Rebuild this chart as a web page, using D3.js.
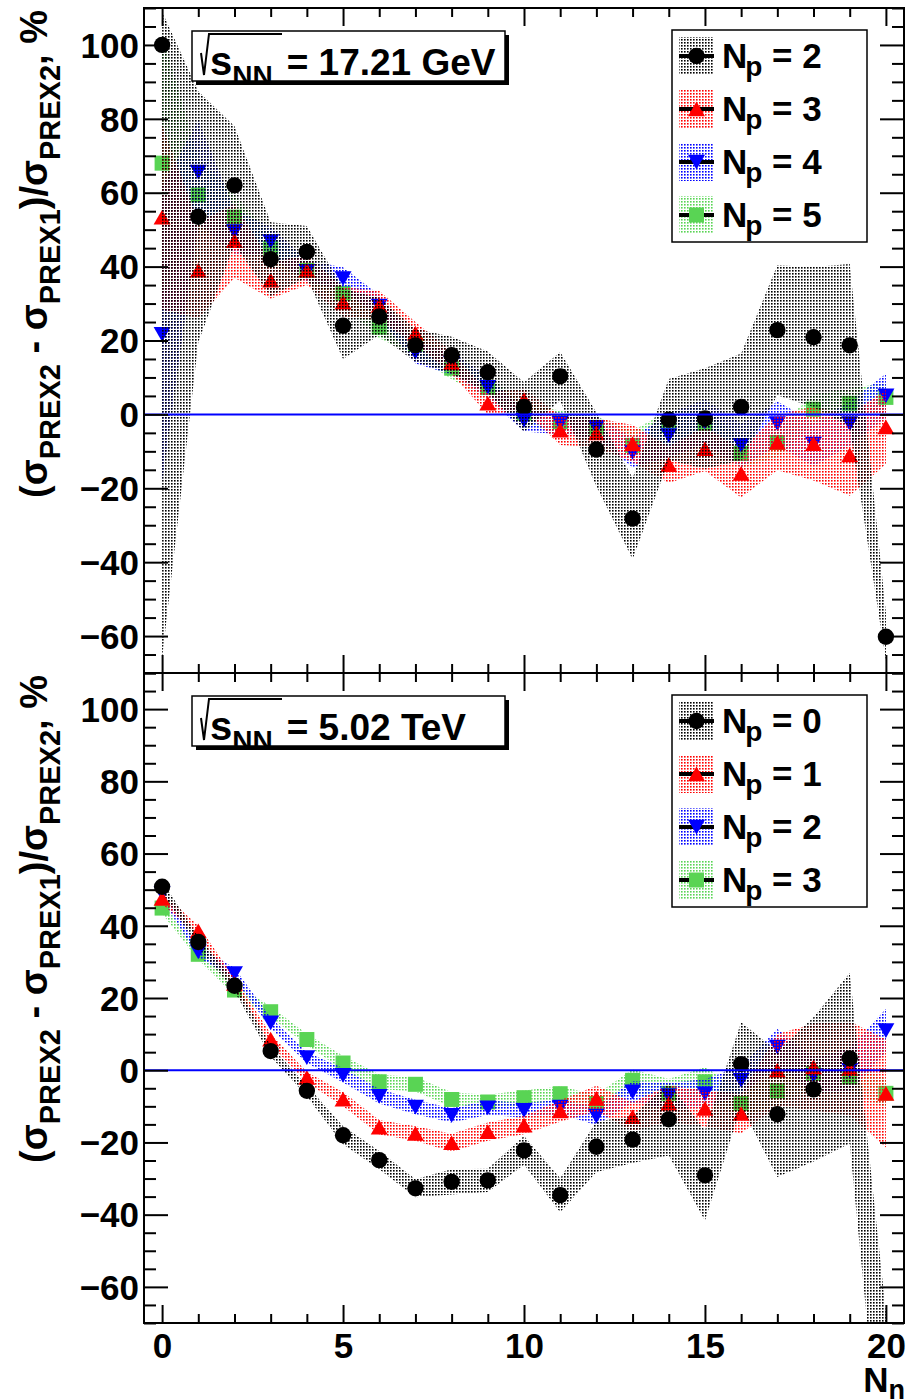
<!DOCTYPE html>
<html>
<head>
<meta charset="utf-8">
<script src="https://cdn.jsdelivr.net/npm/d3@7"></script>
<style>
  body { margin: 0; background: #fff; }
  svg { display: block; }
  text { font-family: "Liberation Sans", Arial, Helvetica, sans-serif; font-weight: bold; fill: #000; }
</style>
</head>
<body>
<svg id="chart" width="907" height="1400"></svg>
<script>
// Number of emitted neutrons on the x axis
const nNeutrons = d3.range(0, 21);

// sqrt(s_NN) = 17.21 GeV, relative cross-section difference in %
const sps_np2 = [100, 53.5, 62, 42, 44, 24, 26.5, 18.7, 16, 11.4, 2, 10.3, -9.5, -28.2, -1.4, -1.1, 2, 22.8, 20.9, 18.7, -60.2];
const sps_np2_errLow = [166, 34, 16, 10, 7, 9, 5, 4.5, 5, 5.6, 6.7, 6.6, 10, 11, 11, 13.6, 14.5, 17.6, 19, 22, 6.5];
const sps_np2_errHigh = [9, 34, 16, 10, 7, 10, 5, 4.5, 5, 5.6, 6.7, 6.6, 10, 11, 11, 13.6, 14.5, 17.6, 19, 22, 6.5];
const sps_np3 = [53.4, 39, 47, 36.3, 39, 30.4, 29.5, 22, 14, 3, 4, -4.3, -5, -7.9, -13.6, -9.3, -16, -7.6, -7.9, -11, -3.4];
const sps_np3_err = [25, 13, 10, 5, 4, 4, 4, 3, 3, 3, 3, 4, 4, 5, 5, 6, 6.5, 7.5, 10, 11, 10];
const sps_np4 = [21.7, 65.6, 49.5, 46.8, 38.7, 36.8, 29.3, 16.8, 13.8, 7.3, -1.6, -2.4, -3.5, -10.3, -5.7, -2, -8.4, -2.5, -8, -2.5, 5];
const sps_np4_err = [40, 14, 6, 4, 3, 3, 3, 3, 3, 3, 3, 3, 3, 4, 6, 6, 6, 6, 6, 6, 6];
const sps_np5 = [68, 59.4, 53.4, 45, 39, 32.8, 23.6, 19, 12.5, 7.3, 0.3, -2, -3.5, -8.4, -3, -2.4, -10.6, -7.6, 1.4, 3, 4.6];
const sps_np5_err = [35, 10, 6, 4, 3, 3, 3, 3, 3, 3, 3, 3, 3, 4, 4, 4, 4, 4, 4, 4, 4];

// sqrt(s_NN) = 5.02 TeV
const lhc_np0 = [50.8, 35.5, 23.4, 5.3, -5.7, -18, -24.9, -32.7, -30.9, -30.5, -22.2, -34.6, -21.2, -19.2, -13.6, -29.1, 1.7, -12.2, -5.3, 3.3, -95];
const lhc_np0_err = [1.5, 1.5, 1.5, 1.5, 1.5, 2.5, 2.5, 2.5, 3.5, 3.2, 4, 4.7, 7, 6.5, 10, 12.5, 11.6, 17.4, 20, 23.6, 28];
const lhc_np1 = [47.6, 38.6, 24, 8.6, -2, -8, -15.8, -17.5, -20.1, -17, -15.2, -11.3, -7.8, -12.9, -9.2, -10.6, -12, 0, 0.9, 0.5, -6.4];
const lhc_np1_err = [1.5, 1.5, 1.5, 1.5, 1.5, 2, 2, 2, 2.5, 2.5, 2.5, 3, 3.5, 4, 5, 5, 5.5, 10, 12, 13, 15];
const lhc_np2 = [49, 32.8, 26.8, 13.1, 3.5, -1.4, -7.2, -10.2, -12.5, -10.4, -11.1, -10.2, -12.7, -6, -7, -6.5, -2.8, 6.4, -1.4, 0, 11];
const lhc_np2_err = [1.5, 1.5, 1.5, 1.5, 1.5, 2, 2, 2, 2, 2, 2, 2, 2.5, 3, 3.5, 4, 4, 5, 5, 6, 6];
const lhc_np3 = [44.9, 32.1, 22.2, 16.2, 8.5, 2, -3.2, -3.9, -8.1, -8.8, -7.6, -6.5, -9.2, -2.8, -6.4, -3.2, -9.2, -5.7, -0.9, -1.9, -6.4];
const lhc_np3_err = [1.5, 1.5, 1.5, 1.5, 1.5, 2, 2, 2, 2, 2, 2, 2, 2.5, 3, 4, 4, 4, 4, 4, 4, 4];

// Axis ticks
const yMajorTicks = [-60, -40, -20, 0, 20, 40, 60, 80, 100];
const yMinorTicks = d3.range(-70, 111, 5).filter(v => v % 20 !== 0);
const xMajorTicks = [0, 5, 10, 15, 20];
const xMinorTicks = d3.range(0, 21).filter(v => v % 5 !== 0);

const energyLabels = [
  { s: "s", sub: "NN", rest: "= 17.21 GeV" },
  { s: "s", sub: "NN", rest: "= 5.02 TeV" }
];

const colors = { black: "#000000", red: "#ff0000", blue: "#0000ff", green: "#59d454" };

const svg = d3.select("#chart");
svg.append("rect").attr("width", 907).attr("height", 1400).attr("fill", "#fff");

const frameL = 144, frameR = 904;
const x = d3.scaleLinear().domain([-0.5, 20.5]).range([frameL, frameR]);

// dotted fill patterns for the uncertainty bands
const defs = svg.append("defs");
Object.entries(colors).forEach(([name, c]) => {
  const p = defs.append("pattern")
    .attr("id", "dots-" + name)
    .attr("patternUnits", "userSpaceOnUse")
    .attr("width", 3).attr("height", 3);
  p.append("rect").attr("width", 1.6).attr("height", 1.6).attr("fill", c);
});

const markers = {
  circle: { type: d3.symbolCircle, size: 210, rot: 0, dy: 0 },
  triUp: { type: d3.symbolTriangle, size: 125, rot: 0, dy: 2.4 },
  triDown: { type: d3.symbolTriangle, size: 125, rot: 180, dy: -2.4 },
  square: { type: d3.symbolSquare, size: 225, rot: 0, dy: 0 }
};

function series(label, vals, lo, hi, color, marker) {
  return {
    label, color, marker,
    points: nNeutrons.map((n, i) => ({ n, v: vals[i], lo: lo[i], hi: hi[i] }))
  };
}

const panels = [
  {
    top: 8, bottom: 673, xLabels: false, energy: energyLabels[0],
    series: [
      series("2", sps_np2, sps_np2_errLow, sps_np2_errHigh, "black", "circle"),
      series("3", sps_np3, sps_np3_err, sps_np3_err, "red", "triUp"),
      series("4", sps_np4, sps_np4_err, sps_np4_err, "blue", "triDown"),
      series("5", sps_np5, sps_np5_err, sps_np5_err, "green", "square")
    ]
  },
  {
    top: 673, bottom: 1323, xLabels: true, energy: energyLabels[1],
    series: [
      series("0", lhc_np0, lhc_np0_err, lhc_np0_err, "black", "circle"),
      series("1", lhc_np1, lhc_np1_err, lhc_np1_err, "red", "triUp"),
      series("2", lhc_np2, lhc_np2_err, lhc_np2_err, "blue", "triDown"),
      series("3", lhc_np3, lhc_np3_err, lhc_np3_err, "green", "square")
    ]
  }
];

function drawMarker(sel, m, px, py, color) {
  sel.append("path")
    .attr("d", d3.symbol(markers[m].type, markers[m].size)())
    .attr("transform", `translate(${px},${py + markers[m].dy}) rotate(${markers[m].rot})`)
    .attr("fill", colors[color]);
}

function styleAxis(g) {
  g.select(".domain").remove();
  g.selectAll(".tick line").attr("stroke", "#000").attr("stroke-width", 2);
  g.attr("font-family", null).attr("font-size", null);
}

panels.forEach((P, pi) => {
  const y = d3.scaleLinear().domain([-70, 110]).range([P.bottom, P.top]);
  const g = svg.append("g");
  const clipId = "clip" + pi;
  defs.append("clipPath").attr("id", clipId)
    .append("rect").attr("x", frameL).attr("y", P.top)
    .attr("width", frameR - frameL).attr("height", P.bottom - P.top);

  const plot = g.append("g").attr("clip-path", `url(#${clipId})`);
  const area = d3.area()
    .x(d => x(d.n))
    .y0(d => y(d.v - d.lo))
    .y1(d => y(d.v + d.hi));

  // draw last-listed series first so the first one ends up on top
  P.series.slice().reverse().forEach(s => {
    plot.append("path").datum(s.points)
      .attr("d", area)
      .attr("fill", `url(#dots-${s.color})`);
    const mg = plot.append("g");
    s.points.forEach(d => drawMarker(mg, s.marker, x(d.n), y(d.v), s.color));
  });

  // zero reference line
  g.append("line")
    .attr("x1", frameL).attr("x2", frameR)
    .attr("y1", y(0)).attr("y2", y(0))
    .attr("stroke", "#0000ff").attr("stroke-width", 2);

  // axes with inward ticks on all four sides
  const left = g.append("g").attr("transform", `translate(${frameL},0)`)
    .call(d3.axisLeft(y).tickValues(yMajorTicks).tickSize(-24).tickPadding(5).tickFormat(d3.format("d")));
  styleAxis(left);
  left.selectAll(".tick text").attr("font-size", 35).attr("dy", "0.35em").attr("x", -5);
  const leftMinor = g.append("g").attr("transform", `translate(${frameL},0)`)
    .call(d3.axisLeft(y).tickValues(yMinorTicks).tickSize(-12).tickFormat(""));
  styleAxis(leftMinor);
  const right = g.append("g").attr("transform", `translate(${frameR},0)`)
    .call(d3.axisRight(y).tickValues(yMajorTicks).tickSize(-24).tickFormat(""));
  styleAxis(right);
  const rightMinor = g.append("g").attr("transform", `translate(${frameR},0)`)
    .call(d3.axisRight(y).tickValues(yMinorTicks).tickSize(-12).tickFormat(""));
  styleAxis(rightMinor);

  const bottom = g.append("g").attr("transform", `translate(0,${P.bottom})`)
    .call(d3.axisBottom(x).tickValues(xMajorTicks).tickSize(-18).tickFormat(P.xLabels ? d3.format("d") : ""));
  styleAxis(bottom);
  bottom.selectAll(".tick text").attr("font-size", 35).attr("y", 35).attr("dy", null);
  const bottomMinor = g.append("g").attr("transform", `translate(0,${P.bottom})`)
    .call(d3.axisBottom(x).tickValues(xMinorTicks).tickSize(-9).tickFormat(""));
  styleAxis(bottomMinor);
  const topAx = g.append("g").attr("transform", `translate(0,${P.top})`)
    .call(d3.axisTop(x).tickValues(xMajorTicks).tickSize(-18).tickFormat(""));
  styleAxis(topAx);
  const topMinor = g.append("g").attr("transform", `translate(0,${P.top})`)
    .call(d3.axisTop(x).tickValues(xMinorTicks).tickSize(-9).tickFormat(""));
  styleAxis(topMinor);

  // frame
  g.append("rect")
    .attr("x", frameL).attr("y", P.top)
    .attr("width", frameR - frameL).attr("height", P.bottom - P.top)
    .attr("fill", "none").attr("stroke", "#000").attr("stroke-width", 2);

  // y axis title
  const yt = g.append("text")
    .attr("transform", `translate(47,${P.top + 2}) rotate(-90)`)
    .attr("text-anchor", "end")
    .attr("font-size", 38);
  const parts = [["(σ", 0], ["PREX2", 1], [" - σ", 0], ["PREX1", 1], [")/σ", 0], ["PREX2", 1], [", %", 0]];
  let shifted = false;
  parts.forEach(([t, sub]) => {
    const ts = yt.append("tspan").text(t);
    if (sub) { ts.attr("font-size", 29).attr("dy", 13); shifted = true; }
    else if (shifted) { ts.attr("dy", -13); shifted = false; }
  });

  // energy box with drop shadow
  const bx = 192, by = P.top + 23, bw = 313, bh = 50;
  g.append("rect").attr("x", bx + 4).attr("y", by + 4).attr("width", bw).attr("height", bh).attr("fill", "#000");
  g.append("rect").attr("x", bx).attr("y", by).attr("width", bw).attr("height", bh)
    .attr("fill", "#fff").attr("stroke", "#000").attr("stroke-width", 1.5);
  g.append("path")
    .attr("d", `M${bx + 9},${by + 22} L${bx + 12},${by + 44} L${bx + 17},${by + 3} L${bx + 90},${by + 3}`)
    .attr("fill", "none").attr("stroke", "#000").attr("stroke-width", 2);
  const et = g.append("text").attr("x", bx + 18).attr("y", by + 44).attr("font-size", 37);
  et.append("tspan").text(P.energy.s).attr("font-size", 40);
  et.append("tspan").text(P.energy.sub).attr("font-size", 28).attr("dy", 10);
  et.append("tspan").text(P.energy.rest).attr("dx", 14).attr("dy", -10);

  // legend
  const lx = 672, ly = P.top + 22, lw = 195, lh = 212;
  const leg = g.append("g");
  leg.append("rect").attr("x", lx).attr("y", ly).attr("width", lw).attr("height", lh)
    .attr("fill", "#fff").attr("stroke", "#000").attr("stroke-width", 1.5);
  P.series.forEach((s, i) => {
    const cy = ly + 26 + i * 53;
    leg.append("rect").attr("x", 679).attr("y", cy - 19).attr("width", 35).attr("height", 38)
      .attr("fill", `url(#dots-${s.color})`);
    leg.append("line").attr("x1", 679).attr("x2", 714).attr("y1", cy).attr("y2", cy)
      .attr("stroke", "#000").attr("stroke-width", 4);
    drawMarker(leg, s.marker, 696.5, cy, s.color);
    const t = leg.append("text").attr("x", 722).attr("y", cy + 12).attr("font-size", 35);
    t.append("tspan").text("N");
    t.append("tspan").text("p").attr("font-size", 28).attr("dx", -2).attr("dy", 8);
    t.append("tspan").text(" = " + s.label).attr("dy", -8);
  });
});

// x axis title
const xt = svg.append("text").attr("x", 905).attr("y", 1392).attr("text-anchor", "end").attr("font-size", 35);
xt.append("tspan").text("N");
xt.append("tspan").text("n").attr("font-size", 27).attr("dy", 7);
</script>
</body>
</html>
